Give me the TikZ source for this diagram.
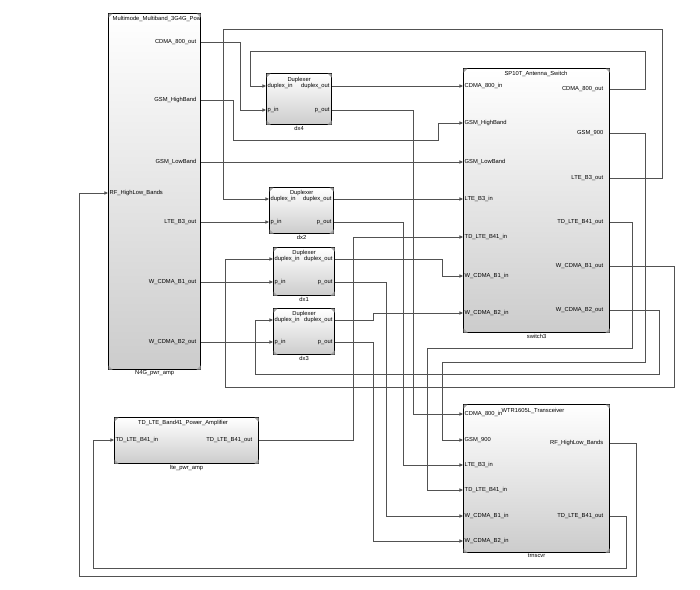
\documentclass[tikz,border=0pt]{standalone}
\usepackage{fontspec}
\newfontfamily\simfont{Liberation Sans}
\usetikzlibrary{arrows.meta,shadows}

\tikzset{
  blk/.style={draw, line width=1.2pt, top color=white, bottom color=black!20,
    drop shadow={shadow xshift=0.8pt, shadow yshift=-0.8pt, opacity=0.45},
    anchor=north west, inner sep=0pt},
  pl/.style={font=\simfont\fontsize{5.8}{6.5}\selectfont, inner sep=0.5pt},
  inport/.style={pl, anchor=west},
  outport/.style={pl, anchor=east},
  ttl/.style={pl, anchor=center},
  bname/.style={pl, anchor=north},
  wire/.style={draw=black!68, line width=0.7pt},
  sig/.style={wire, -{Triangle[length=3.6pt,width=3.2pt]}},
}

\newcommand\blkcorners[1]{%
  \fill[black!35] ([shift={(0.6pt,-0.6pt)}]#1.north west) -- ++(4pt,0pt) -- ++(-4pt,-4pt) -- cycle;
  \fill[black!35] ([shift={(-0.6pt,-0.6pt)}]#1.north east) -- ++(-4pt,0pt) -- ++(4pt,-4pt) -- cycle;
  \fill[black!35] ([shift={(0.6pt,0.6pt)}]#1.south west) -- ++(4pt,0pt) -- ++(-4pt,4pt) -- cycle;
  \fill[black!35] ([shift={(-0.6pt,0.6pt)}]#1.south east) -- ++(-4pt,0pt) -- ++(4pt,4pt) -- cycle;}

\begin{document}
\begin{tikzpicture}[x=1pt,y=-1pt]
\useasboundingbox (0,0) rectangle (700,589);

% blocks
\node[blk, minimum width=92pt, minimum height=356pt] (amp) at (108,13) {};
\node[blk, minimum width=65pt, minimum height=51pt] (dx4) at (266,73) {};
\node[blk, minimum width=64pt, minimum height=46pt] (dx2) at (269,187) {};
\node[blk, minimum width=61pt, minimum height=48pt] (dx1) at (273,247) {};
\node[blk, minimum width=61pt, minimum height=46pt] (dx3) at (273,308) {};
\node[blk, minimum width=146pt, minimum height=264pt] (sw) at (463,68) {};
\node[blk, minimum width=146pt, minimum height=148pt] (trx) at (463,404) {};
\node[blk, minimum width=144pt, minimum height=46pt] (lte) at (114,417) {};
\foreach \b in {amp,dx4,dx2,dx1,dx3,sw,trx,lte} {\blkcorners{\b}}

% titles and names
\node[pl, anchor=west] (ampT) at (112,19) {Multimode\_Multiband\_3G4G\_Pow};
\node[bname] (ampN) at (amp.south) {N4G\_pwr\_amp};
\node[ttl] (swT) at (536,74) {SP10T\_Antenna\_Switch};
\node[bname] (swN) at (sw.south) {switch3};
\node[ttl] (trxT) at (533,411) {WTR1605L\_Transceiver};
\node[bname] (trxN) at (trx.south) {trnscvr};
\node[ttl] (lteT) at (183,423) {TD\_LTE\_Band41\_Power\_Amplifier};
\node[bname] (lteN) at (lte.south) {lte\_pwr\_amp};
\foreach \d/\y in {dx4/80,dx2/193,dx1/253,dx3/314} {
  \node[ttl] (\d T) at (\d.north |- 0,\y) {Duplexer};
  \node[bname] (\d N) at (\d.south) {\d};
}

% ports of N4G_pwr_amp
\node[inport] (aRf) at (109,193) {RF\_HighLow\_Bands};
\foreach \n/\y/\t in {aCdma/42/CDMA\_800\_out, aGsmH/100/GSM\_HighBand,
    aGsmL/162/GSM\_LowBand, aLte/222/LTE\_B3\_out,
    aB1/282/W\_CDMA\_B1\_out, aB2/342/W\_CDMA\_B2\_out}
  \node[outport] (\n) at (197,\y) {\t};

% ports of the duplexers
\foreach \d/\ya/\yb in {dx4/86/110,dx2/199/222,dx1/259/282,dx3/320/342} {
  \node[inport] (\d din) at ([xshift=1pt]\d.west |- 0,\ya) {duplex\_in};
  \node[inport] (\d pin) at ([xshift=1pt]\d.west |- 0,\yb) {p\_in};
  \node[outport] (\d dout) at ([xshift=-2pt]\d.east |- 0,\ya) {duplex\_out};
  \node[outport] (\d pout) at ([xshift=-2pt]\d.east |- 0,\yb) {p\_out};
}

% ports of SP10T_Antenna_Switch
\foreach \n/\y/\t in {sCdma/86/CDMA\_800\_in, sGsmH/123/GSM\_HighBand,
    sGsmL/162/GSM\_LowBand, sLte/199/LTE\_B3\_in, sTd/237/TD\_LTE\_B41\_in,
    sB1/276/W\_CDMA\_B1\_in, sB2/313/W\_CDMA\_B2\_in}
  \node[inport] (\n) at (464,\y) {\t};
\foreach \n/\y/\t in {sCdmaO/89/CDMA\_800\_out, sGsm/133/GSM\_900,
    sLteO/178/LTE\_B3\_out, sTdO/222/TD\_LTE\_B41\_out,
    sB1O/266/W\_CDMA\_B1\_out, sB2O/310/W\_CDMA\_B2\_out}
  \node[outport] (\n) at (604,\y) {\t};

% ports of WTR1605L_Transceiver
\foreach \n/\y/\t in {tCdma/414/CDMA\_800\_in, tGsm/440/GSM\_900,
    tLte/465/LTE\_B3\_in, tTd/490/TD\_LTE\_B41\_in,
    tB1/516/W\_CDMA\_B1\_in, tB2/541/W\_CDMA\_B2\_in}
  \node[inport] (\n) at (464,\y) {\t};
\node[outport] (tRf) at (604,443) {RF\_HighLow\_Bands};
\node[outport] (tTdO) at (604,516) {TD\_LTE\_B41\_out};

% ports of TD_LTE_Band41_Power_Amplifier
\node[inport] (lIn) at (115,440) {TD\_LTE\_B41\_in};
\node[outport] (lOut) at (253,440) {TD\_LTE\_B41\_out};

% power amp to duplexers and switch
\draw[sig] (amp.east |- aCdma) -| (240,110) -- (dx4.west |- dx4pin);
\draw[sig] (amp.east |- aGsmH) -| (233,140) -| (438,123) -- (sw.west |- sGsmH);
\draw[sig] (amp.east |- aGsmL) -- (sw.west |- sGsmL);
\draw[sig] (amp.east |- aLte) -- (dx2.west |- dx2pin);
\draw[sig] (amp.east |- aB1) -- (dx1.west |- dx1pin);
\draw[sig] (amp.east |- aB2) -- (dx3.west |- dx3pin);

% duplexers to switch and transceiver
\draw[sig] (dx4.east |- dx4dout) -- (sw.west |- sCdma);
\draw[sig] (dx4.east |- dx4pout) -| (413,414) -- (trx.west |- tCdma);
\draw[sig] (dx2.east |- dx2dout) -- (sw.west |- sLte);
\draw[sig] (dx2.east |- dx2pout) -| (403,465) -- (trx.west |- tLte);
\draw[sig] (dx1.east |- dx1dout) -| (442,276) -- (sw.west |- sB1);
\draw[sig] (dx1.east |- dx1pout) -| (386,516) -- (trx.west |- tB1);
\draw[sig] (dx3.east |- dx3dout) -| (373,313) -- (sw.west |- sB2);
\draw[sig] (dx3.east |- dx3pout) -| (373,541) -- (trx.west |- tB2);

% switch back to duplexers and transceiver
\draw[sig] (sw.east |- sCdmaO) -| (645,51) -| (250,86) -- (dx4.west |- dx4din);
\draw[sig] (sw.east |- sGsm) -| (645,362) -| (442,440) -- (trx.west |- tGsm);
\draw[sig] (sw.east |- sLteO) -| (662,29) -| (223,199) -- (dx2.west |- dx2din);
\draw[sig] (sw.east |- sTdO) -| (632,348) -| (427,490) -- (trx.west |- tTd);
\draw[sig] (sw.east |- sB1O) -| (674,387) -| (225,259) -- (dx1.west |- dx1din);
\draw[sig] (sw.east |- sB2O) -| (659,374) -| (255,320) -- (dx3.west |- dx3din);

% lte amp and transceiver loops
\draw[sig] (lte.east |- lOut) -| (353,237) -- (sw.west |- sTd);
\draw[sig] (trx.east |- tRf) -| (636,576) -| (79,193) -- (amp.west |- aRf);
\draw[sig] (trx.east |- tTdO) -| (626,568) -| (93,440) -- (lte.west |- lIn);
\end{tikzpicture}
\end{document}
